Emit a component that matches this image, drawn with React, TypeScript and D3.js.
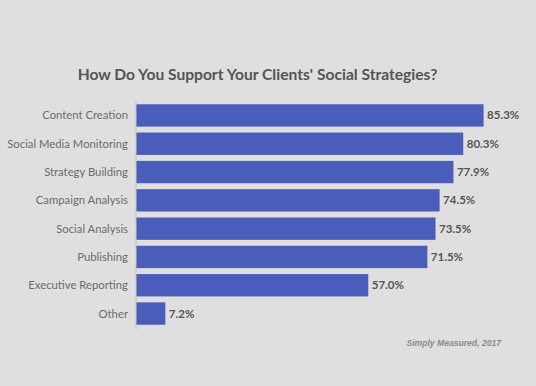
import React from 'react'
import * as d3 from 'd3'

const categories = [
  'Content Creation',
  'Social Media Monitoring',
  'Strategy Building',
  'Campaign Analysis',
  'Social Analysis',
  'Publishing',
  'Executive Reporting',
  'Other',
]
const values = [85.3, 80.3, 77.9, 74.5, 73.5, 71.5, 57.0, 7.2]
const title = "How Do You Support Your Clients' Social Strategies?"
const source = 'Simply Measured, 2017'

const W = 536
const H = 386
const font = 'Lato, "Open Sans", sans-serif'

export default function App() {
  const data = categories.map((c, i) => ({ cat: c, value: values[i] }))

  const x = d3.scaleLinear().domain([0, 100]).range([136, 136 + 407.5])
  const y = d3.scaleBand()
    .domain(categories)
    .range([101.3, 327.7])
    .paddingInner(0.21)
    .paddingOuter(0.105)

  return (
    <svg width={W} height={H} style={{ position: 'absolute', left: 0, top: 0 }}>
      <rect x={0} y={0} width={W} height={H} fill="#dfdfdf" />
      <text x={257.5} y={80} textAnchor="middle" fontFamily={font} fontWeight="bold"
        fontSize={15.6} fill="#545454">{title}</text>

      {data.map(d => (
        <g key={d.cat}>
          <rect x={x(0)} y={y(d.cat)} width={x(d.value) - x(0)} height={y.bandwidth()}
            fill="#4a5dba" />
          <text x={128} y={y(d.cat)! + y.bandwidth() / 2} dy="0.35em" textAnchor="end"
            fontFamily={font} fontSize={11.3} fill="#6b6b6b">{d.cat}</text>
          <text x={x(d.value) + 3.5} y={y(d.cat)! + y.bandwidth() / 2} dy="0.35em"
            fontFamily={font} fontWeight="bold" fontSize={11.5} fill="#555">
            {d.value.toFixed(1)}%
          </text>
        </g>
      ))}

      <line x1={x(0)} x2={x(0)} y1={100} y2={330} stroke="#c4c4c4" strokeWidth={1} />

      <text x={501} y={346} textAnchor="end" fontFamily='"Liberation Sans", Arial, sans-serif'
        fontStyle="italic" fontWeight="bold" fontSize={8.6} fill="#8a8a8a">{source}</text>
    </svg>
  )
}
